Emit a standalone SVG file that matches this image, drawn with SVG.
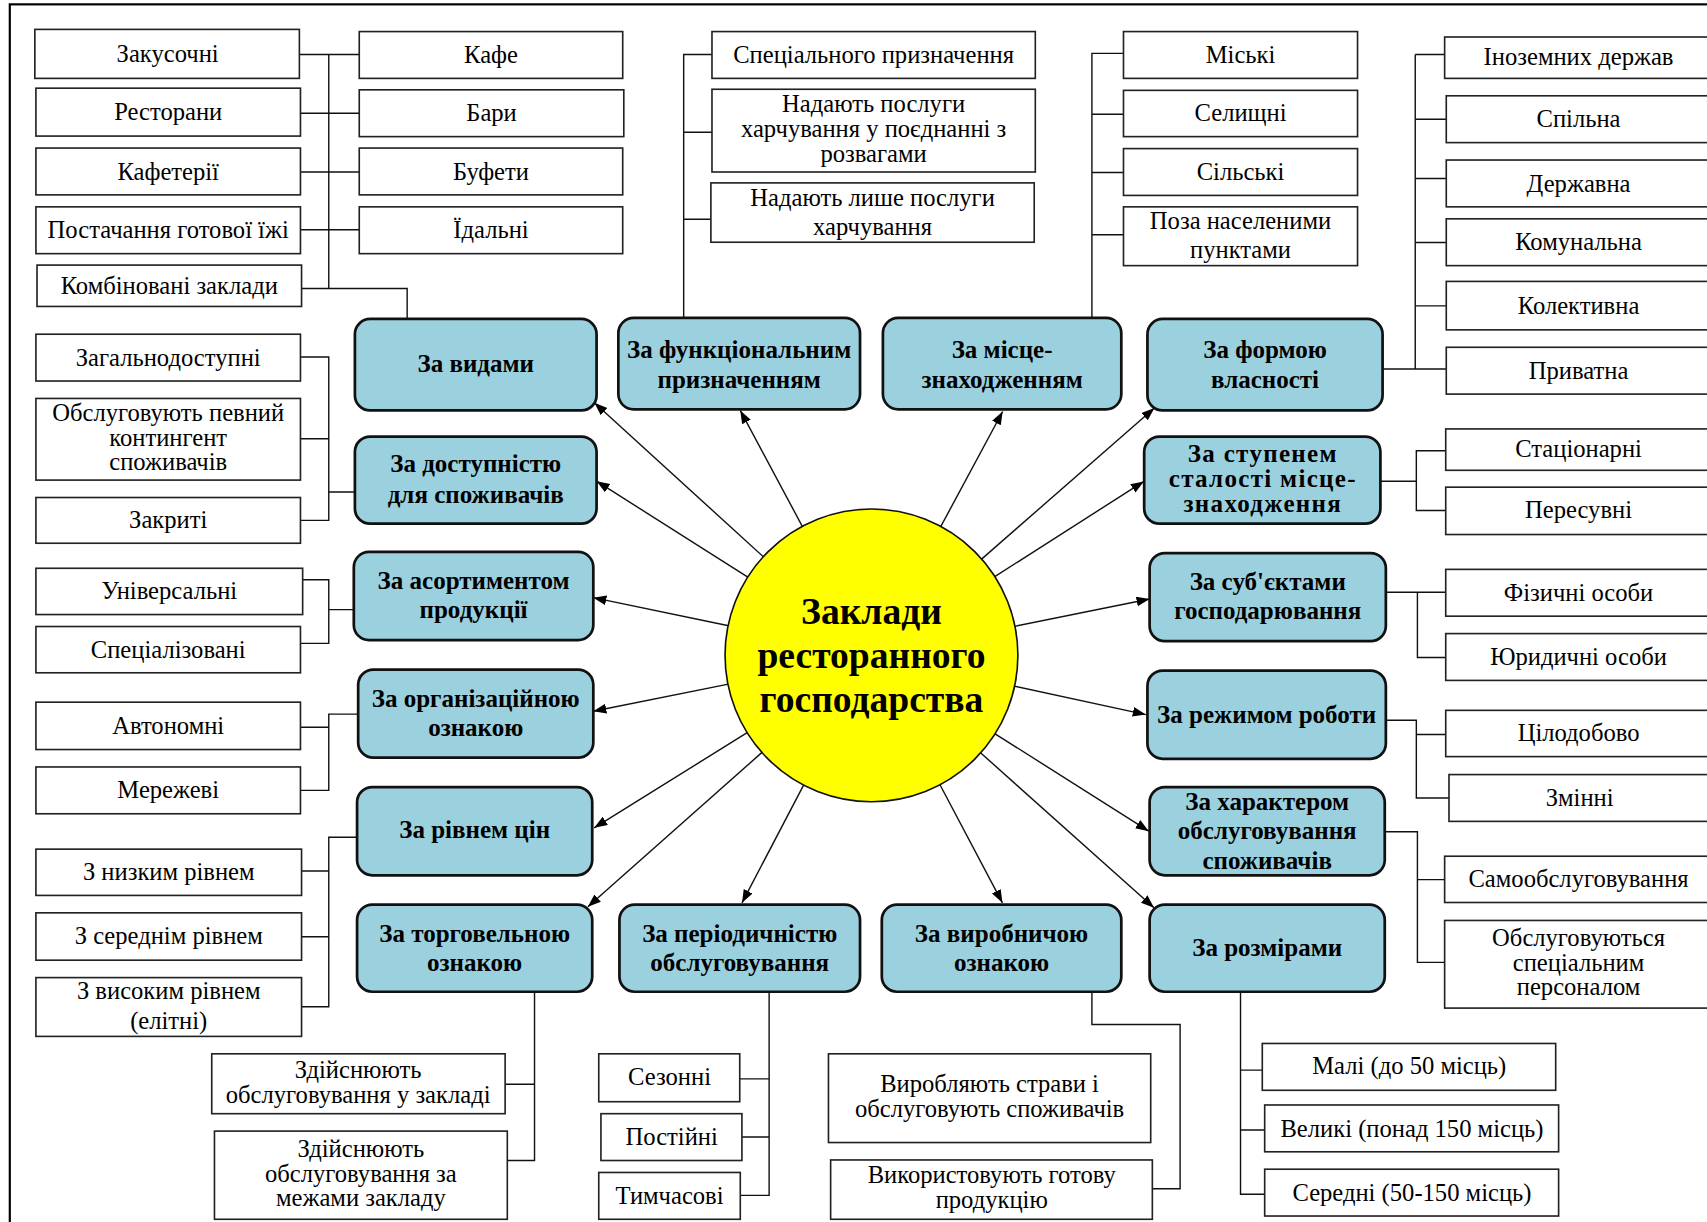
<svg xmlns="http://www.w3.org/2000/svg" width="1707" height="1222" viewBox="0 0 1707 1222">
<defs>
<style>
.w{fill:#fff;stroke:#222;stroke-width:1.5}
.n{fill:#9BD0DE;stroke:#111;stroke-width:2.5}
.c{fill:none;stroke:#111;stroke-width:1.3}
.a{fill:none;stroke:#111;stroke-width:1.3;marker-end:url(#arr)}
text{font-family:"Liberation Serif","Times New Roman",serif;text-anchor:middle;fill:#000}
.t{font-size:22.6px}
.b{font-size:23px;font-weight:bold}
.sp{letter-spacing:1.2px}
.title{font-size:34.5px;font-weight:bold}
</style>
<marker id="arr" markerUnits="userSpaceOnUse" markerWidth="13" markerHeight="10" refX="12" refY="4.5" orient="auto"><path d="M0,0 L12,4.5 L0,9 z" fill="#000"/></marker>
</defs>
<rect x="0" y="0" width="1707" height="1222" fill="#fff"/>
<g transform="scale(1.08865)">
<rect x="9" y="4" width="1600" height="1200" fill="none" stroke="#000" stroke-width="2"/>

<g id="connectors">
<path class="c" d="M275,50H330 M276,104H330 M276,158H330 M276,211H330 M302,50V265 M277,265H374V293"/>
<path class="c" d="M276,328H302V478H276 M276,403H302 M302,452H326"/>
<path class="c" d="M278,532.5H302V591H276 M302,560H325"/>
<path class="c" d="M329,656H302V726H276 M276,668H302"/>
<path class="c" d="M328,769H302V924.7H277 M277,800H302 M277,860.5H302"/>
<path class="c" d="M491,911V1066H466 M464,996H491"/>
<path class="c" d="M706.5,911V1098H680 M679.5,991H706.5 M681.6,1044.4H706.5"/>
<path class="c" d="M1003,911V941H1084V1092H1058.5"/>
<path class="c" d="M1139.5,911V1097H1161.7 M1139.5,983H1159.5 M1139.5,1038H1161.7"/>
<path class="c" d="M1272,764H1302V884H1327 M1302,808H1327"/>
<path class="c" d="M1273,661.6H1301V733H1331 M1301,674.7H1328"/>
<path class="c" d="M1273,544H1328 M1302,544V604H1328"/>
<path class="c" d="M1268,442H1301 M1328,414H1301V469H1328"/>
<path class="c" d="M1270,339H1328.5 M1300,50V339 M1300,50H1327 M1300,109.5H1328.5 M1300,164H1328.5 M1300,222.8H1328.5 M1300,281H1328.5"/>
<path class="c" d="M1003,292V49H1032 M1003,105H1032 M1003,158.5H1032 M1003,215.7H1032"/>
<path class="c" d="M628,292V50H654 M628,121.5H654 M628,201.4H653"/>
<line class="a" x1="701.5" y1="511.7" x2="546" y2="370"/>
<line class="a" x1="687.3" y1="530.3" x2="548" y2="442"/>
<line class="a" x1="669.3" y1="574.8" x2="545" y2="549"/>
<line class="a" x1="669.1" y1="628.4" x2="545" y2="653.3"/>
<line class="a" x1="686.7" y1="672.8" x2="545.8" y2="760.4"/>
<line class="a" x1="700.2" y1="690.9" x2="540" y2="833"/>
<line class="a" x1="738.4" y1="720.7" x2="681.6" y2="829.3"/>
<line class="a" x1="863.2" y1="720.4" x2="920.8" y2="829.3"/>
<line class="a" x1="900.4" y1="691.2" x2="1060" y2="833.8"/>
<line class="a" x1="913.7" y1="673.8" x2="1055.2" y2="763.5"/>
<line class="a" x1="931.5" y1="630.3" x2="1052.5" y2="656.4"/>
<line class="a" x1="931.8" y1="575.4" x2="1056" y2="550.2"/>
<line class="a" x1="913.4" y1="529.9" x2="1050.7" y2="442.2"/>
<line class="a" x1="901.4" y1="513.8" x2="1060.4" y2="374.8"/>
<line class="a" x1="864" y1="484" x2="921" y2="378"/>
<line class="a" x1="737.2" y1="483.9" x2="680" y2="377"/>
</g>

<g id="center">
<ellipse cx="800.5" cy="602" rx="134.5" ry="134.5" fill="#FFFF00" stroke="#111" stroke-width="1.5"/>
<text class="title" x="800.5" y="573">Заклади</text>
<text class="title" x="800.5" y="614">ресторанного</text>
<text class="title" x="800.5" y="654">господарства</text>
</g>

<g id="b_vydamy"><rect class="n" x="326" y="293" width="222" height="84" rx="14"/><text class="b" x="437" y="342">За видами</text></g>
<g id="b_funk"><rect class="n" x="568" y="292" width="222" height="84" rx="14"/><text class="b" x="679" y="329">За функціональним</text><text class="b" x="679" y="356">призначенням</text></g>
<g id="b_mistse"><rect class="n" x="811" y="292" width="219" height="84" rx="14"/><text class="b" x="920.5" y="329">За місце-</text><text class="b" x="920.5" y="356">знаходженням</text></g>
<g id="b_forma"><rect class="n" x="1054" y="293" width="216" height="84" rx="14"/><text class="b" x="1162" y="329">За формою</text><text class="b" x="1162" y="356">власності</text></g>
<g id="b_dostup"><rect class="n" x="326" y="401" width="222" height="80" rx="14"/><text class="b" x="437" y="434">За доступністю</text><text class="b" x="437" y="462">для споживачів</text></g>
<g id="b_stupen"><rect class="n" x="1051" y="401" width="217" height="80" rx="14"/><text class="b sp" x="1160" y="424">За ступенем</text><text class="b sp" x="1160" y="447">сталості місце-</text><text class="b sp" x="1160" y="470">знаходження</text></g>
<g id="b_asort"><rect class="n" x="325" y="507" width="220" height="81" rx="14"/><text class="b" x="435" y="541">За асортиментом</text><text class="b" x="435" y="568">продукції</text></g>
<g id="b_subiekt"><rect class="n" x="1056" y="508" width="217" height="81" rx="14"/><text class="b" x="1164.5" y="542">За суб'єктами</text><text class="b" x="1164.5" y="569">господарювання</text></g>
<g id="b_orhan"><rect class="n" x="329" y="615" width="216" height="81" rx="14"/><text class="b" x="437" y="649">За організаційною</text><text class="b" x="437" y="676">ознакою</text></g>
<g id="b_rezhym"><rect class="n" x="1054" y="616" width="219" height="81" rx="14"/><text class="b" x="1163.5" y="664">За режимом роботи</text></g>
<g id="b_riven"><rect class="n" x="328" y="723" width="216" height="81" rx="14"/><text class="b" x="436" y="770">За рівнем цін</text></g>
<g id="b_kharakter"><rect class="n" x="1056" y="723" width="216" height="81" rx="14"/><text class="b" x="1164" y="744">За характером</text><text class="b" x="1164" y="771">обслуговування</text><text class="b" x="1164" y="798">споживачів</text></g>
<g id="b_torh"><rect class="n" x="328" y="831" width="216" height="80" rx="14"/><text class="b" x="436" y="865">За торговельною</text><text class="b" x="436" y="892">ознакою</text></g>
<g id="b_period"><rect class="n" x="569" y="831" width="221" height="80" rx="14"/><text class="b" x="679.5" y="865">За періодичністю</text><text class="b" x="679.5" y="892">обслуговування</text></g>
<g id="b_vyrob"><rect class="n" x="810" y="831" width="220" height="80" rx="14"/><text class="b" x="920" y="865">За виробничою</text><text class="b" x="920" y="892">ознакою</text></g>
<g id="b_rozmir"><rect class="n" x="1056" y="831" width="216" height="80" rx="14"/><text class="b" x="1164" y="878">За розмірами</text></g>

<g id="n_zakusochni"><rect class="w" x="32" y="27" width="243" height="45"/><text class="t" x="154" y="57">Закусочні</text></g>
<g id="n_restorany"><rect class="w" x="33" y="81" width="243" height="44"/><text class="t" x="154.5" y="110">Ресторани</text></g>
<g id="n_kafeterii"><rect class="w" x="33" y="136" width="243" height="43"/><text class="t" x="154.5" y="165">Кафетерії</text></g>
<g id="n_postachannya"><rect class="w" x="33" y="190" width="243" height="43"/><text class="t" x="154.5" y="219">Постачання готової їжі</text></g>
<g id="n_kombinovani"><rect class="w" x="34" y="243.5" width="243" height="38"/><text class="t" x="155.5" y="270">Комбіновані заклади</text></g>
<g id="n_kafe"><rect class="w" x="330" y="29" width="242" height="43"/><text class="t" x="451" y="58">Кафе</text></g>
<g id="n_bary"><rect class="w" x="330" y="82.5" width="243" height="43"/><text class="t" x="451.5" y="111">Бари</text></g>
<g id="n_bufety"><rect class="w" x="330" y="136" width="242" height="43"/><text class="t" x="451" y="165">Буфети</text></g>
<g id="n_idalni"><rect class="w" x="330" y="190" width="242" height="43"/><text class="t" x="451" y="219">Їдальні</text></g>

<g id="n_specialnogo"><rect class="w" x="654" y="29" width="297" height="43"/><text class="t" x="802.5" y="58">Спеціального призначення</text></g>
<g id="n_poiednanni"><rect class="w" x="654" y="82" width="297" height="76"/><text class="t" x="802.5" y="103">Надають послуги</text><text class="t" x="802.5" y="126">харчування у поєднанні з</text><text class="t" x="802.5" y="149">розвагами</text></g>
<g id="n_lyshe"><rect class="w" x="653" y="168" width="297" height="54.5"/><text class="t" x="801.5" y="189">Надають лише послуги</text><text class="t" x="801.5" y="216">харчування</text></g>

<g id="n_miski"><rect class="w" x="1032" y="29" width="215" height="43"/><text class="t" x="1139.5" y="58">Міські</text></g>
<g id="n_selyshchni"><rect class="w" x="1032" y="83" width="215" height="42.5"/><text class="t" x="1139.5" y="111">Селищні</text></g>
<g id="n_silski"><rect class="w" x="1032" y="136.5" width="215" height="43"/><text class="t" x="1139.5" y="165">Сільські</text></g>
<g id="n_poza"><rect class="w" x="1032" y="190" width="215" height="54"/><text class="t" x="1139.5" y="210">Поза населеними</text><text class="t" x="1139.5" y="237">пунктами</text></g>

<g id="n_inozemnykh"><rect class="w" x="1327" y="34" width="246" height="38"/><text class="t" x="1450" y="60">Іноземних держав</text></g>
<g id="n_spilna"><rect class="w" x="1328.5" y="88" width="246" height="43"/><text class="t" x="1450" y="117">Спільна</text></g>
<g id="n_derzhavna"><rect class="w" x="1328.5" y="147" width="246" height="43"/><text class="t" x="1450" y="176">Державна</text></g>
<g id="n_komunalna"><rect class="w" x="1328.5" y="201" width="246" height="43"/><text class="t" x="1450" y="230">Комунальна</text></g>
<g id="n_kolektyvna"><rect class="w" x="1328.5" y="258.5" width="246" height="44.5"/><text class="t" x="1450" y="288">Колективна</text></g>
<g id="n_pryvatna"><rect class="w" x="1328.5" y="319" width="246" height="43"/><text class="t" x="1450" y="348">Приватна</text></g>

<g id="n_zahalno"><rect class="w" x="33" y="307" width="243" height="43"/><text class="t" x="154.5" y="336">Загальнодоступні</text></g>
<g id="n_obsluh"><rect class="w" x="33" y="366" width="243" height="75"/><text class="t" x="154.5" y="387">Обслуговують певний</text><text class="t" x="154.5" y="410">контингент</text><text class="t" x="154.5" y="432">споживачів</text></g>
<g id="n_zakryti"><rect class="w" x="33" y="457" width="243" height="42"/><text class="t" x="154.5" y="485">Закриті</text></g>
<g id="n_univ"><rect class="w" x="33" y="522" width="245" height="42.5"/><text class="t" x="155.5" y="550">Універсальні</text></g>
<g id="n_spec"><rect class="w" x="33" y="575.5" width="243" height="42.5"/><text class="t" x="154.5" y="604">Спеціалізовані</text></g>
<g id="n_avton"><rect class="w" x="33" y="645" width="243" height="43.5"/><text class="t" x="154.5" y="674">Автономні</text></g>
<g id="n_merezh"><rect class="w" x="33" y="704.5" width="243" height="43"/><text class="t" x="154.5" y="733">Мережеві</text></g>
<g id="n_nyzkym"><rect class="w" x="33" y="780" width="244" height="42.5"/><text class="t" x="155" y="808">З низким рівнем</text></g>
<g id="n_serednim"><rect class="w" x="33" y="838.5" width="244" height="43.5"/><text class="t" x="155" y="867">З середнім рівнем</text></g>
<g id="n_vysokym"><rect class="w" x="33" y="898" width="244" height="54"/><text class="t" x="155" y="918">З високим рівнем</text><text class="t" x="155" y="945">(елітні)</text></g>

<g id="n_statsionarni"><rect class="w" x="1328" y="394" width="246" height="38"/><text class="t" x="1450" y="420">Стаціонарні</text></g>
<g id="n_peresuvni"><rect class="w" x="1328" y="447.5" width="246" height="43.5"/><text class="t" x="1450" y="476">Пересувні</text></g>
<g id="n_fizychni"><rect class="w" x="1328" y="523" width="246" height="43"/><text class="t" x="1450" y="552">Фізичні особи</text></g>
<g id="n_yurydychni"><rect class="w" x="1328" y="582" width="246" height="43"/><text class="t" x="1450" y="611">Юридичні особи</text></g>
<g id="n_tsilodobovo"><rect class="w" x="1328" y="652.5" width="246" height="42.5"/><text class="t" x="1450" y="681">Цілодобово</text></g>
<g id="n_zminni"><rect class="w" x="1331" y="711.5" width="246" height="43"/><text class="t" x="1451" y="740">Змінні</text></g>
<g id="n_samoobsl"><rect class="w" x="1327" y="786.5" width="246" height="42.5"/><text class="t" x="1450" y="815">Самообслуговування</text></g>
<g id="n_obsluhovuyutsya"><rect class="w" x="1327" y="845.5" width="246" height="80.5"/><text class="t" x="1450" y="869">Обслуговуються</text><text class="t" x="1450" y="892">спеціальним</text><text class="t" x="1450" y="914">персоналом</text></g>

<g id="n_zdiisn1"><rect class="w" x="194.5" y="968" width="269.5" height="55"/><text class="t" x="329" y="990">Здійснюють</text><text class="t" x="329" y="1013">обслуговування у закладі</text></g>
<g id="n_zdiisn2"><rect class="w" x="197" y="1039" width="269" height="81"/><text class="t" x="331.5" y="1063">Здійснюють</text><text class="t" x="331.5" y="1086">обслуговування за</text><text class="t" x="331.5" y="1108">межами закладу</text></g>
<g id="n_sezonni"><rect class="w" x="550" y="968" width="129.5" height="44"/><text class="t" x="615" y="997">Сезонні</text></g>
<g id="n_postiini"><rect class="w" x="552" y="1023" width="129.5" height="43"/><text class="t" x="617" y="1052">Постійні</text></g>
<g id="n_tymchasovi"><rect class="w" x="550" y="1077" width="130" height="43"/><text class="t" x="615" y="1106">Тимчасові</text></g>
<g id="n_vyrobl"><rect class="w" x="761" y="968" width="296" height="81.5"/><text class="t" x="909" y="1003">Виробляють страви і</text><text class="t" x="909" y="1026">обслуговують споживачів</text></g>
<g id="n_vykoryst"><rect class="w" x="763" y="1065.5" width="295.5" height="54.5"/><text class="t" x="911" y="1087">Використовують готову</text><text class="t" x="911" y="1110">продукцію</text></g>
<g id="n_mali"><rect class="w" x="1159.5" y="958.5" width="269.5" height="43"/><text class="t" x="1294.5" y="987">Малі (до 50 місць)</text></g>
<g id="n_velyki"><rect class="w" x="1161.7" y="1015" width="270" height="43"/><text class="t" x="1297" y="1044">Великі (понад 150 місць)</text></g>
<g id="n_seredni"><rect class="w" x="1161.7" y="1074" width="270" height="43"/><text class="t" x="1297" y="1103">Середні (50-150 місць)</text></g>
</g>
</svg>
